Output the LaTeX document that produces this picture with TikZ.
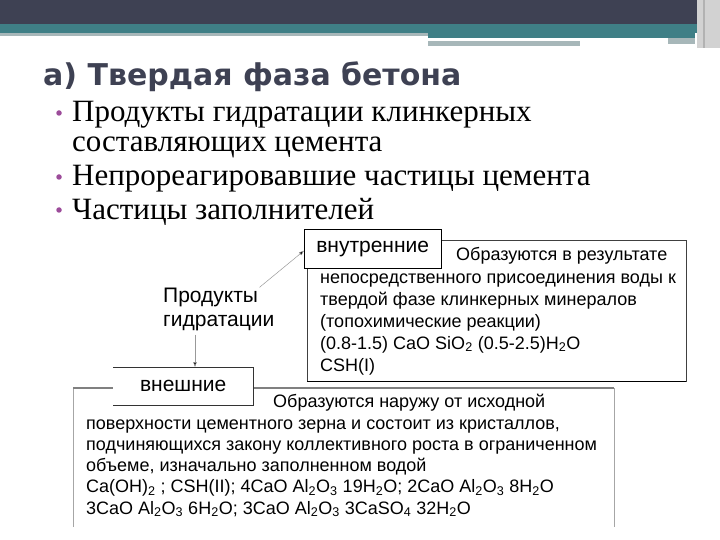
\documentclass[tikz,border=0pt]{standalone}
\usepackage{fontspec}
\setmainfont{Liberation Serif}
\newfontfamily\arialfont{Liberation Sans}
\newfontfamily\titlefont{DejaVu Sans}
\usetikzlibrary{positioning,arrows.meta}

\definecolor{hdark}{HTML}{3E4153}
\definecolor{hteal}{HTML}{3F7F86}
\definecolor{hgray}{HTML}{A7B7B9}
\definecolor{bulletc}{HTML}{9C4C9A}

\tikzset{
  bul/.style={circle, fill=bulletc, inner sep=0, minimum size=5.5pt},
  btext/.style={anchor=base west, inner sep=0, font=\fontsize{31}{34}\selectfont},
  chem/.style={anchor=base west, inner sep=0, align=left, font=\arialfont\fontsize{18}{22}\selectfont},
  lbl/.style={inner sep=0, font=\arialfont\fontsize{21}{24}\selectfont},
  arr/.style={gray!80, line width=0.5pt, -{Triangle[length=5pt,width=3.5pt,fill=black]}}
}

\begin{document}
\begin{tikzpicture}[x=1pt,y=-1pt]
\useasboundingbox (0,0) rectangle (720,540);

% Шапка слайда
\fill[hdark] (0,0) rectangle (720,24);
\fill[hteal] (0,24) rectangle (720,33);
\fill[hgray] (0,33) rectangle (428,36);
\fill[hteal] (428,33) rectangle (695,38);
\fill[hgray] (428,41) rectangle (580,46);
\fill[hgray] (668,38) rectangle (695,44);
\fill[gray!35] (697,0) rectangle (720,48);
\fill[gray!60] (703,0) rectangle (705,48);

% Заголовок
\node[anchor=base west, inner sep=0, text=hdark, font=\titlefont\bfseries\fontsize{30}{33}\selectfont] (title) at (43,86) {а) Твердая фаза бетона};

% Пункты списка
\node[btext] (item1) at (72,122) {Продукты гидратации клинкерных};
\node[btext] (item1b) at (72,152) {составляющих цемента};
\node[btext] (item2) at (72,186) {Непрореагировавшие частицы цемента};
\node[btext] (item3) at (72,219) {Частицы заполнителей};
\node[bul] at (59,113) {};
\node[bul] at (59,177) {};
\node[bul] at (59,210) {};

% Внутренние продукты
\node[draw=black!75, minimum width=379pt, minimum height=141pt, anchor=north west, inner sep=0] (box1) at (307,240) {};
\draw[black, line width=1pt] (box1.south west) -- (box1.south east);
\node[draw=black, fill=white, lbl, minimum width=137pt, minimum height=39pt, anchor=north west] (inner) at (304,229) {внутренние};
\node[chem] (t1a) at (456,260) {Образуются в результате};
\node[chem] (t1b) at (320,371) {непосредственного присоединения воды к\\
твердой фазе клинкерных минералов\\
(топохимические реакции)\\
(0.8-1.5) CaO SiO\textsubscript{2} (0.5-2.5)H\textsubscript{2}O\\
CSH(I)};

% Продукты гидратации
\node[lbl, anchor=base west, align=left] (prod) at (163,326) {Продукты\\гидратации};
\draw[arr] ([xshift=-15pt]prod.north east) -- ([yshift=-2pt]inner.west);

% Внешние продукты
\draw[gray!70, line width=0.8pt] (73,527) -- (73,388) -- (614,388) -- (614,527);
\draw[gray, line width=2pt] (73,388) -- (614,388);
\node[fill=white, lbl, minimum width=140pt, minimum height=38pt, anchor=north west] (outer) at (113,367) {внешние};
\draw[black!80] (outer.north west) -- (outer.north east) -- (outer.south east) -- (outer.south west);
\draw[arr] ([xshift=32pt,yshift=-4pt]prod.south west) -- ([xshift=32pt]prod.south west |- outer.north);
\node[chem] (t2a) at (273,407) {Образуются наружу от исходной};
\node[chem, font=\arialfont\fontsize{18}{21.2}\selectfont] (t2b) at (86,514) {поверхности цементного зерна и состоит из кристаллов,\\
подчиняющихся закону коллективного роста в ограниченном\\
объеме, изначально заполненном водой\\
Ca(OH)\textsubscript{2} ; CSH(II); 4CaO Al\textsubscript{2}O\textsubscript{3} 19H\textsubscript{2}O; 2CaO Al\textsubscript{2}O\textsubscript{3} 8H\textsubscript{2}O\\
3CaO Al\textsubscript{2}O\textsubscript{3} 6H\textsubscript{2}O; 3CaO Al\textsubscript{2}O\textsubscript{3} 3CaSO\textsubscript{4} 32H\textsubscript{2}O};

\end{tikzpicture}
\end{document}
